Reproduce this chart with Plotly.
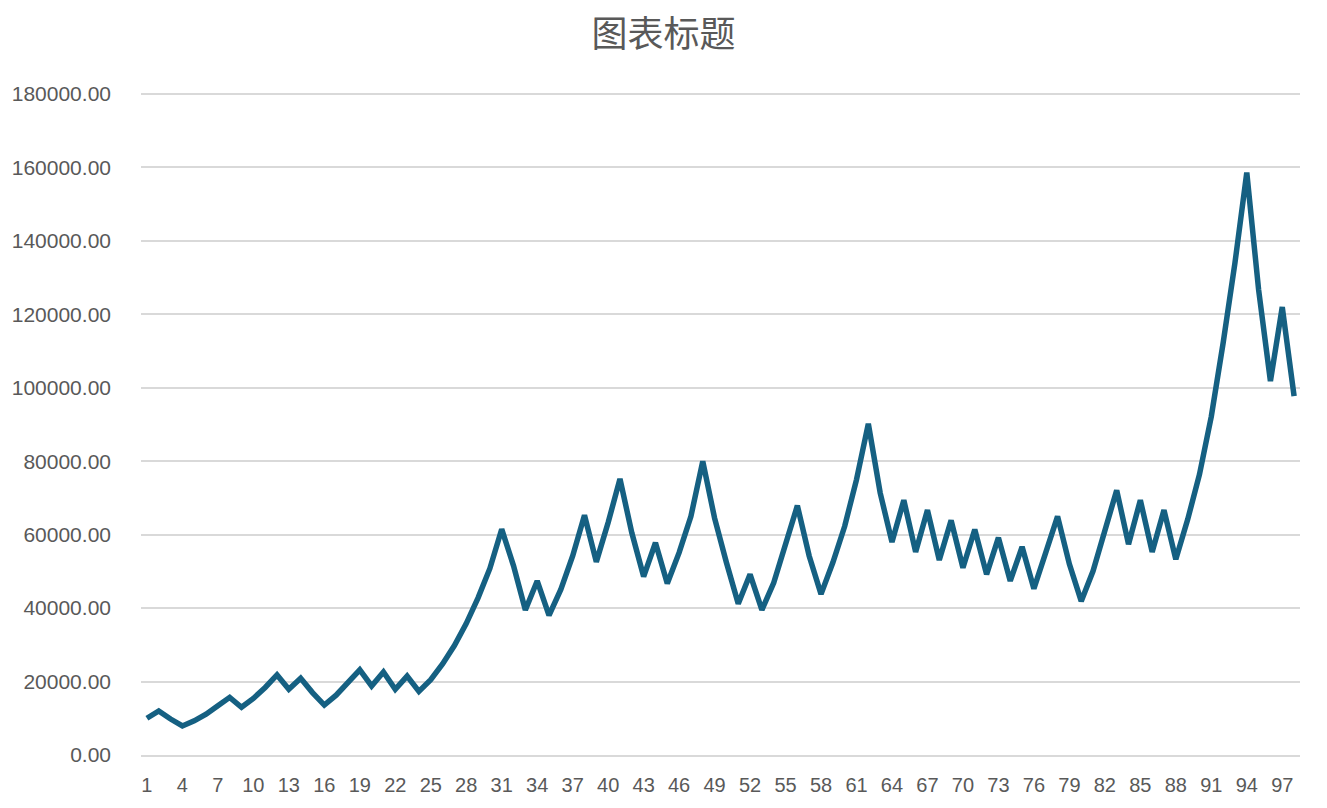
import plotly.graph_objects as go

categories = list(range(1, 99))
values = [
    10000, 12000, 9800, 7900, 9300, 11100, 13400, 15700, 13000, 15400,
    18400, 21800, 17900, 20900, 17000, 13600, 16300, 19500, 23200, 18800,
    22600, 17900, 21500, 17300, 20500, 24800, 29800, 35800, 42800, 50800,
    61500, 51500, 39500, 47400, 38000, 45100, 54200, 65300, 52600, 63300,
    75200, 60500, 48600, 57800, 46700, 55100, 65000, 80000, 64500, 52400,
    41200, 49200, 39500, 46900, 56900, 67900, 54200, 43800, 52400, 62300,
    75000, 90200, 71400, 58000, 69400, 55300, 66700, 53100, 63900, 51000,
    61400, 49200, 59200, 47400, 56700, 45300, 55100, 65000, 52000, 41900,
    50100, 61400, 72100, 57400, 69400, 55300, 66700, 53300, 64100, 76400,
    92200, 112200, 134000, 158600, 126700, 101800, 122000, 97700,
]
tick_vals = list(range(1, 99, 3))
y_ticks = list(range(0, 180001, 20000))

fig = go.Figure()
fig.add_trace(go.Scatter(
    x=categories, y=values, mode="lines",
    line=dict(color="#156082", width=5.5),
    hoverinfo="skip",
))

fig.update_layout(
    width=1327, height=808,
    margin=dict(l=139, r=27, t=92, b=52),
    paper_bgcolor="white", plot_bgcolor="white",
    showlegend=False,
    title=dict(
        text="图表标题", x=0.5, xanchor="center", y=0.957, yanchor="middle",
        font=dict(family="Noto Sans CJK SC", size=36, color="#595959"),
    ),
    font=dict(family="Liberation Sans, Arial, sans-serif", color="#595959", size=20),
)
fig.update_xaxes(
    range=[0.5, 98.5], tickmode="array", tickvals=tick_vals,
    ticktext=[str(v) for v in tick_vals],
    showgrid=False, showline=True, linecolor="#d9d9d9", linewidth=2,
    ticks="", ticklabelstandoff=11, zeroline=False,
    tickfont=dict(size=20, color="#595959"),
)
fig.update_yaxes(
    range=[0, 180550], tickmode="array", tickvals=y_ticks,
    tickformat=".2f", showgrid=True, gridcolor="#d9d9d9", gridwidth=2,
    zeroline=False, showline=False, ticks="", ticklabelstandoff=29,
    tickfont=dict(size=21, color="#595959"),
)

fig.write_html("out.html")
